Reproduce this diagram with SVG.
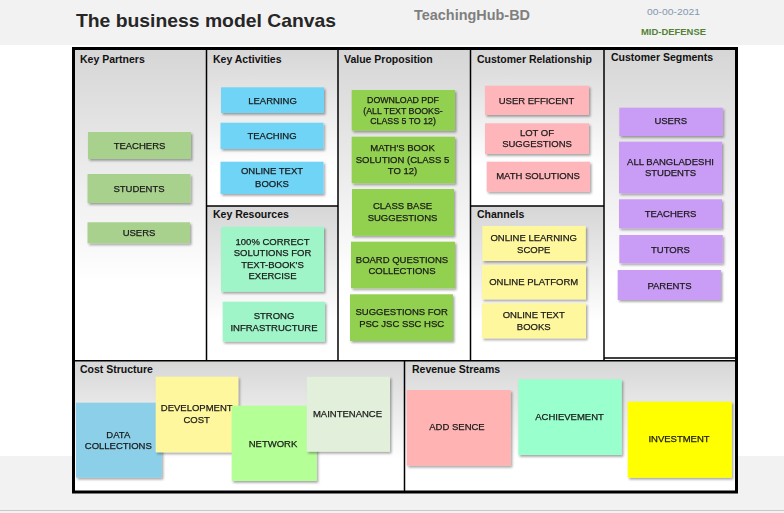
<svg xmlns="http://www.w3.org/2000/svg" width="784" height="513" viewBox="0 0 784 513">
<style>
.bg{fill:#f2f2f2}
.sec{fill:url(#secGrad)}
.ln{stroke:#000;stroke-width:1.5;fill:none}
.hd{font-family:"Liberation Sans",Arial,sans-serif;font-size:10.5px;font-weight:bold;fill:#111}
.n{font-family:"Liberation Sans",Arial,sans-serif;font-size:9.5px;fill:#1a1a1a;stroke:#1a1a1a;stroke-width:0.25px;text-anchor:middle}
.s{font-size:8.8px}
.note{filter:url(#sh)}
.kp{fill:#a9d18e}
.ka{fill:#6fd4f7}
.kr{fill:#9ff5c8}
.vp{fill:#92d050}
.cr{fill:#ffb6ba}
.ch{fill:#fff79e}
.cs{fill:#c99cf5}
</style>
<defs>
<linearGradient id="secGrad" x1="0" y1="0" x2="0" y2="1">
<stop offset="0" stop-color="#d6d6d6"/>
<stop offset="0.75" stop-color="#ffffff"/>
<stop offset="1" stop-color="#ffffff"/>
</linearGradient>
<filter id="sh" x="-10%" y="-10%" width="125%" height="130%">
<feDropShadow dx="1.5" dy="1.8" stdDeviation="1" flood-color="#000" flood-opacity="0.35"/>
</filter>
</defs>

<g id="background">
<rect x="0" y="0" width="784" height="513" fill="#ffffff"/>
<rect class="bg" x="0" y="0" width="784" height="45"/>
<rect class="bg" x="0" y="456" width="784" height="57"/>
<line x1="0" y1="510.5" x2="784" y2="510.5" stroke="#c8c8c8" stroke-width="1"/>
</g>

<g id="header">
<text x="76" y="27" font-family="Liberation Sans,Arial,sans-serif" font-size="18.5" font-weight="bold" fill="#262626" textLength="260" lengthAdjust="spacingAndGlyphs">The business model Canvas</text>
<text x="414" y="20" font-family="Liberation Sans,Arial,sans-serif" font-size="14" font-weight="bold" fill="#7f7f7f" textLength="116" lengthAdjust="spacingAndGlyphs">TeachingHub-BD</text>
<text x="647" y="15" font-family="Liberation Sans,Arial,sans-serif" font-size="9.5" fill="#8497b0" textLength="53" lengthAdjust="spacingAndGlyphs">00-00-2021</text>
<text x="641" y="35" font-family="Liberation Sans,Arial,sans-serif" font-size="9.5" font-weight="bold" fill="#548235" textLength="65" lengthAdjust="spacingAndGlyphs">MID-DEFENSE</text>
</g>

<g id="sections">
<rect class="sec" x="73.5" y="49" width="133" height="311"/>
<rect class="sec" x="206.5" y="49" width="131.5" height="157"/>
<rect class="sec" x="206.5" y="206" width="131.5" height="154"/>
<rect class="sec" x="338" y="49" width="132.5" height="311"/>
<rect class="sec" x="470.5" y="49" width="133.5" height="157"/>
<rect class="sec" x="470.5" y="206" width="133.5" height="154"/>
<rect class="sec" x="604" y="49" width="132" height="309"/>
<rect class="sec" x="73.5" y="360.5" width="331" height="131.5"/>
<rect class="sec" x="404.5" y="360.5" width="331.5" height="131.5"/>
<line class="ln" x1="206.5" y1="49" x2="206.5" y2="360.5"/>
<line class="ln" x1="338" y1="49" x2="338" y2="360.5"/>
<line class="ln" x1="470.5" y1="49" x2="470.5" y2="360.5"/>
<line class="ln" x1="604" y1="49" x2="604" y2="360.5" stroke-width="2"/>
<line class="ln" x1="206.5" y1="206" x2="338" y2="206"/>
<line class="ln" x1="470.5" y1="206" x2="604" y2="206"/>
<line class="ln" x1="604" y1="358" x2="736" y2="358"/>
<line class="ln" x1="73.5" y1="360.7" x2="736" y2="360.7"/>
<line class="ln" x1="404.5" y1="360.7" x2="404.5" y2="492"/>
<rect x="73.5" y="48.5" width="663" height="443.5" fill="none" stroke="#000" stroke-width="3"/>
<text class="hd" x="80" y="62.5">Key Partners</text>
<text class="hd" x="213" y="62.5">Key Activities</text>
<text class="hd" x="344" y="62.5">Value Proposition</text>
<text class="hd" x="477" y="62.5">Customer Relationship</text>
<text class="hd" x="611" y="60.5">Customer Segments</text>
<text class="hd" x="213" y="218">Key Resources</text>
<text class="hd" x="477" y="217.5">Channels</text>
<text class="hd" x="80" y="373">Cost Structure</text>
<text class="hd" x="412" y="373">Revenue Streams</text>
</g>

<g id="kp-teachers" class="note"><rect class="kp" x="88" y="132" width="103" height="27"/><text class="n" x="139.5" y="149">TEACHERS</text></g>
<g id="kp-students" class="note"><rect class="kp" x="87.5" y="174" width="103" height="29"/><text class="n" x="139" y="192">STUDENTS</text></g>
<g id="kp-users" class="note"><rect class="kp" x="87.5" y="222.3" width="102.5" height="21"/><text class="n" x="139" y="236">USERS</text></g>

<g id="ka-learning" class="note"><rect class="ka" x="221" y="87.3" width="103" height="25.7"/><text class="n" x="272.5" y="103.5">LEARNING</text></g>
<g id="ka-teaching" class="note"><rect class="ka" x="220.5" y="122.7" width="103" height="26.3"/><text class="n" x="272" y="138.5">TEACHING</text></g>
<g id="ka-online-text-books" class="note"><rect class="ka" x="220.5" y="161.7" width="103" height="32.3"/><text class="n" x="272" y="174">ONLINE TEXT</text><text class="n" x="272" y="186.5">BOOKS</text></g>

<g id="kr-solutions" class="note"><rect class="kr" x="221" y="226.7" width="103" height="65"/><text class="n" x="272.5" y="244.5">100% CORRECT</text><text class="n" x="272.5" y="256">SOLUTIONS FOR</text><text class="n" x="272.5" y="267.7">TEXT-BOOK'S</text><text class="n" x="272.5" y="279.3">EXERCISE</text></g>
<g id="kr-infrastructure" class="note"><rect class="kr" x="222.7" y="301.7" width="102.3" height="40"/><text class="n" x="274" y="319">STRONG</text><text class="n" x="274" y="330.7">INFRASTRUCTURE</text></g>

<g id="vp-download" class="note"><rect class="vp" x="351.7" y="90" width="103.3" height="40.7"/><text class="n s" x="403" y="103.2">DOWNLOAD PDF</text><text class="n s" x="403" y="113.7">(ALL TEXT BOOKS-</text><text class="n s" x="403" y="124">CLASS 5 TO 12)</text></g>
<g id="vp-maths" class="note"><rect class="vp" x="351.7" y="136.7" width="103.3" height="46.6"/><text class="n" x="402.5" y="151">MATH'S BOOK</text><text class="n" x="402.5" y="162.5">SOLUTION (CLASS 5</text><text class="n" x="402.5" y="174">TO 12)</text></g>
<g id="vp-class-base" class="note"><rect class="vp" x="352" y="189" width="102" height="46.7"/><text class="n" x="402.5" y="209">CLASS BASE</text><text class="n" x="402.5" y="221">SUGGESTIONS</text></g>
<g id="vp-board" class="note"><rect class="vp" x="351" y="241.7" width="104" height="46.6"/><text class="n" x="402" y="262.5">BOARD QUESTIONS</text><text class="n" x="402" y="274">COLLECTIONS</text></g>
<g id="vp-suggestions" class="note"><rect class="vp" x="350" y="294.3" width="103" height="46.7"/><text class="n" x="401.7" y="314.5">SUGGESTIONS FOR</text><text class="n" x="401.7" y="326.5">PSC JSC SSC HSC</text></g>

<g id="cr-user-efficent" class="note"><rect class="cr" x="485" y="85.7" width="104" height="29.3"/><text class="n" x="536.5" y="103.5">USER EFFICENT</text></g>
<g id="cr-lot-of-suggestions" class="note"><rect class="cr" x="485" y="123.3" width="104" height="30.7"/><text class="n" x="537" y="135.7">LOT OF</text><text class="n" x="537" y="147">SUGGESTIONS</text></g>
<g id="cr-math-solutions" class="note"><rect class="cr" x="486.7" y="161.7" width="103.3" height="30"/><text class="n" x="538" y="179">MATH SOLUTIONS</text></g>

<g id="ch-learning-scope" class="note"><rect class="ch" x="482.3" y="226" width="103.4" height="35"/><text class="n" x="533.7" y="241">ONLINE LEARNING</text><text class="n" x="533.7" y="252.7">SCOPE</text></g>
<g id="ch-platform" class="note"><rect class="ch" x="482" y="265" width="104" height="34.3"/><text class="n" x="533.7" y="285">ONLINE PLATFORM</text></g>
<g id="ch-text-books" class="note"><rect class="ch" x="482" y="303.3" width="104" height="35"/><text class="n" x="533.7" y="317.5">ONLINE TEXT</text><text class="n" x="533.7" y="329.5">BOOKS</text></g>

<g id="cs-users" class="note"><rect class="cs" x="619.3" y="107.7" width="103.4" height="28.3"/><text class="n" x="670.8" y="124">USERS</text></g>
<g id="cs-students" class="note"><rect class="cs" x="619" y="141.7" width="103" height="51.6"/><text class="n" x="670.5" y="165">ALL BANGLADESHI</text><text class="n" x="670.5" y="176.3">STUDENTS</text></g>
<g id="cs-teachers" class="note"><rect class="cs" x="619" y="199.3" width="103" height="29"/><text class="n" x="670.5" y="216.7">TEACHERS</text></g>
<g id="cs-tutors" class="note"><rect class="cs" x="619.3" y="235" width="103.4" height="28.3"/><text class="n" x="670.5" y="252.5">TUTORS</text></g>
<g id="cs-parents" class="note"><rect class="cs" x="617.7" y="270" width="103.3" height="30"/><text class="n" x="669.5" y="288.5">PARENTS</text></g>

<g id="cost-data" class="note"><rect fill="#8ccfe9" x="76" y="402.7" width="85.7" height="75"/><text class="n" x="118.3" y="437.7">DATA</text><text class="n" x="118.3" y="449">COLLECTIONS</text></g>
<g id="cost-development" class="note"><rect fill="#fff79e" x="155.7" y="376.7" width="82.6" height="75.6"/><text class="n" x="196.7" y="411">DEVELOPMENT</text><text class="n" x="196.7" y="423.4">COST</text></g>
<g id="cost-network" class="note"><rect fill="#b5ff97" x="231.7" y="405.7" width="85" height="75.3"/><text class="n" x="273" y="446.5">NETWORK</text></g>
<g id="cost-maintenance" class="note"><rect fill="#e2efda" x="306.7" y="376.7" width="83.3" height="75"/><text class="n" x="347.5" y="416.5">MAINTENANCE</text></g>

<g id="rev-add-sence" class="note"><rect fill="#ffb3b3" x="406.7" y="390" width="104" height="75.7"/><text class="n" x="457" y="430">ADD SENCE</text></g>
<g id="rev-achievement" class="note"><rect fill="#99ffcc" x="518.3" y="379.3" width="103.4" height="75.7"/><text class="n" x="569.5" y="419.5">ACHIEVEMENT</text></g>
<g id="rev-investment" class="note"><rect fill="#ffff00" x="627.7" y="401.7" width="104" height="76"/><text class="n" x="679" y="441.5">INVESTMENT</text></g>
</svg>
